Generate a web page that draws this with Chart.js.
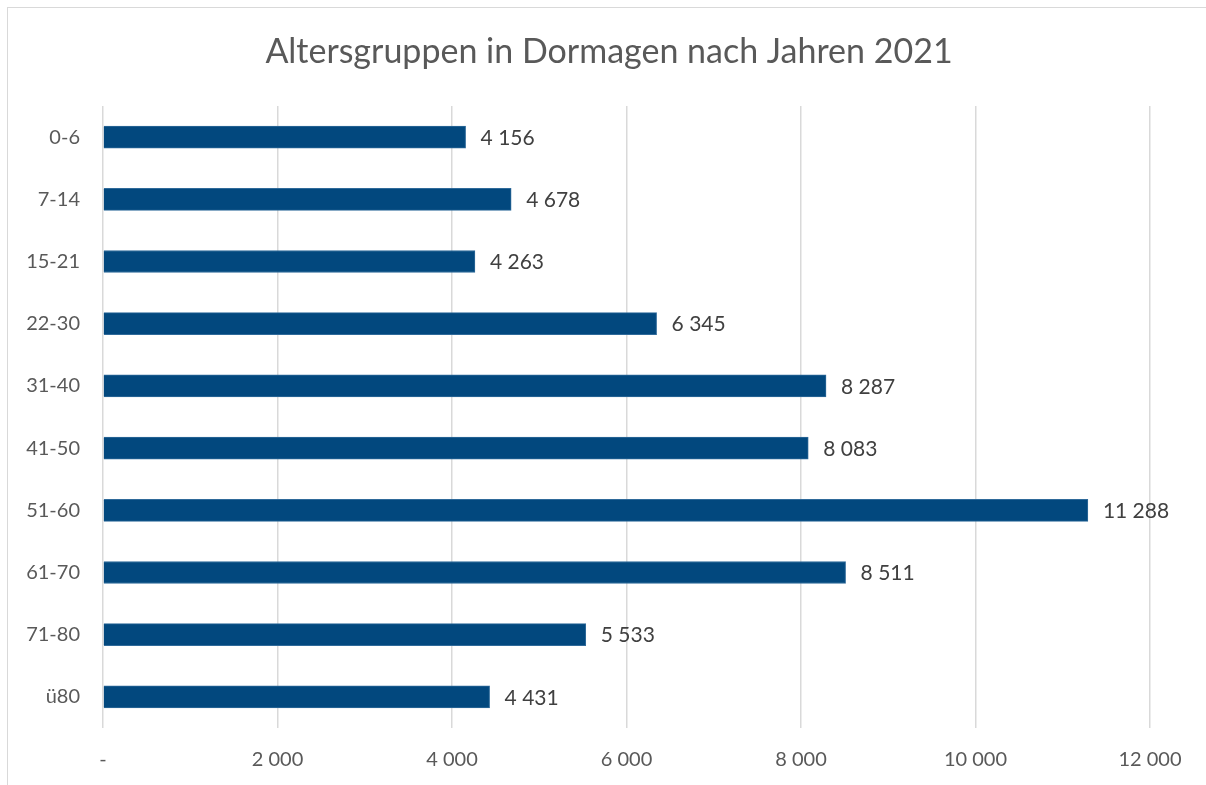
<!DOCTYPE html>
<html>
<head>
<meta charset="utf-8">
<script src="https://cdn.jsdelivr.net/npm/chart.js@4"></script>
<style>
  body { margin: 0; background: #fff; }
  #wrap { position: relative; width: 1206px; height: 785px; overflow: hidden; }
  #frame { position: absolute; left: 7px; top: 7px; width: 1220px; height: 800px; border: 1px solid #d9d9d9; }
  canvas { position: absolute; left: 0; top: 0; }
</style>
</head>
<body>
<div id="wrap">
  <div id="frame"></div>
  <canvas id="myChart" width="1206" height="785"></canvas>
</div>
<script>
const categories = ["0-6", "7-14", "15-21", "22-30", "31-40", "41-50", "51-60", "61-70", "71-80", "ü80"];
const values = [4156, 4678, 4263, 6345, 8287, 8083, 11288, 8511, 5533, 4431];
const xTicks = [0, 2000, 4000, 6000, 8000, 10000, 12000];
const titel = "Altersgruppen in Dormagen nach Jahren 2021";

const fontName = "Lato, 'Open Sans', sans-serif";

// Zahl mit Leerzeichen als Tausendertrenner
function fmt(n) {
  if (n === 0) return "-";
  return String(n).replace(/\B(?=(\d{3})+(?!\d))/g, " ");
}

// Werte rechts neben die Balken schreiben + Titel mittig über dem Rahmen
const barLabels = {
  id: "barLabels",
  afterDatasetsDraw(chart) {
    const ctx = chart.ctx;
    const meta = chart.getDatasetMeta(0);
    ctx.save();
    ctx.font = "21px " + fontName;
    ctx.fillStyle = "#404040";
    ctx.textAlign = "left";
    ctx.textBaseline = "middle";
    meta.data.forEach((bar, i) => {
      ctx.fillText(fmt(values[i]), bar.x + 15, bar.y + 1);
    });

    ctx.font = "34px " + fontName;
    ctx.fillStyle = "#595959";
    ctx.textAlign = "center";
    ctx.fillText(titel, 609, 52);
    ctx.restore();
  }
};

const ctx = document.getElementById('myChart');

new Chart(ctx, {
  type: 'bar',
  data: {
    labels: categories,
    datasets: [{
      data: values,
      backgroundColor: '#02487E',
      borderColor: '#2f6a9a',
      borderWidth: 1,
      borderSkipped: 'start',
      barThickness: 22
    }]
  },
  options: {
    indexAxis: 'y',
    responsive: false,
    animation: false,
    layout: { padding: { left: 0, right: 56, top: 106, bottom: 0 } },
    plugins: {
      legend: { display: false },
      tooltip: { enabled: false },
      title: { display: false }
    },
    scales: {
      x: {
        min: 0,
        max: 12000,
        afterBuildTicks: s => { s.ticks = xTicks.map(v => ({ value: v })); },
        afterFit: s => { s.height = 57; },
        border: { display: false },
        grid: { color: '#d9d9d9', lineWidth: 1.5, drawTicks: false },
        ticks: {
          padding: 20,
          color: '#595959',
          font: { family: fontName, size: 20 },
          callback: v => fmt(v)
        }
      },
      y: {
        afterFit: s => { s.width = 103; },
        border: { display: false },
        grid: { display: false, drawTicks: false },
        ticks: {
          padding: 23,
          color: '#595959',
          font: { family: fontName, size: 20 }
        }
      }
    }
  },
  plugins: [barLabels]
});
</script>
</body>
</html>
